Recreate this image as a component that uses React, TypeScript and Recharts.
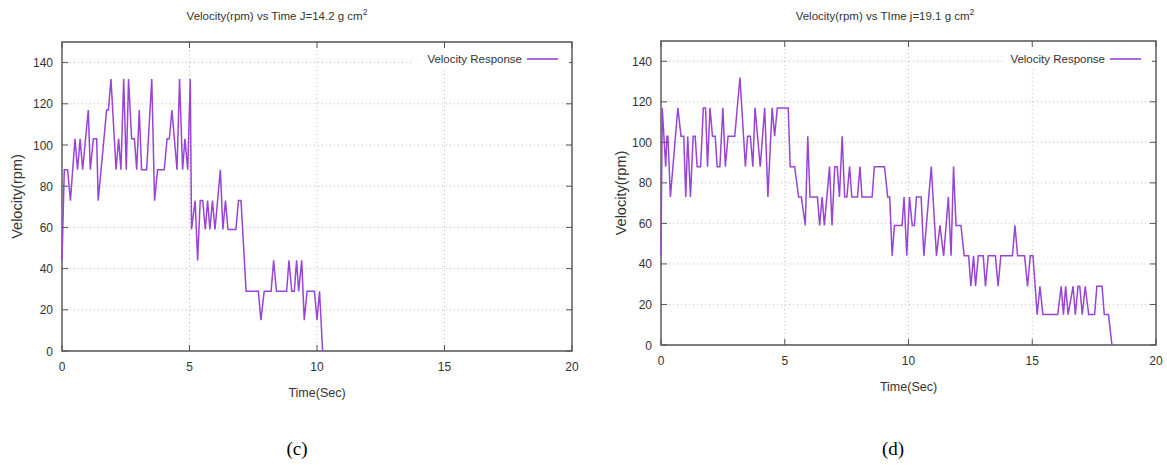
import React from 'react';
import { LineChart, Line, XAxis, YAxis, CartesianGrid, ReferenceArea, Legend } from 'recharts';

// panel (c): J = 14.2 g cm^2
const timeC = [
  0, 0.09, 0.22, 0.33, 0.51, 0.61, 0.71, 0.81, 1.03, 1.11, 1.23, 1.36, 1.42, 1.75, 1.82, 1.92,
  2.12, 2.22, 2.31, 2.42, 2.52, 2.61, 2.73, 2.84, 2.93, 3.03, 3.12, 3.32, 3.52, 3.63, 3.75, 4.01,
  4.12, 4.21, 4.31, 4.51, 4.61, 4.73, 4.82, 4.93, 5.03, 5.08, 5.22, 5.32, 5.42, 5.52, 5.62, 5.71,
  5.8, 5.9, 6.0, 6.21, 6.31, 6.41, 6.51, 6.82, 6.92, 7.02, 7.22, 7.7, 7.8, 7.93, 8.2, 8.3,
  8.41, 8.81, 8.9, 9.01, 9.11, 9.2, 9.28, 9.4, 9.5, 9.61, 9.9, 10.0, 10.1, 10.22,
];
const velocityC = [
  44, 88, 88, 73, 103, 88, 103, 88, 117, 88, 103, 103, 73, 117, 117, 132,
  88, 103, 88, 132, 88, 132, 103, 103, 88, 117, 88, 88, 132, 73, 88, 88,
  103, 103, 117, 88, 132, 88, 103, 88, 132, 59, 73, 44, 73, 73, 59, 73,
  59, 73, 59, 88, 59, 73, 59, 59, 73, 73, 29, 29, 15, 29, 29, 44,
  29, 29, 44, 29, 29, 44, 29, 44, 15, 29, 29, 15, 29, 0,
];

// panel (d): J = 19.1 g cm^2
const timeD = [
  0, 0.05, 0.19, 0.24, 0.28, 0.38, 0.68, 0.81, 0.92, 1.0, 1.08, 1.19, 1.3, 1.38, 1.46, 1.6,
  1.71, 1.8, 1.88, 1.98, 2.08, 2.19, 2.27, 2.38, 2.5, 2.6, 2.71, 2.98, 3.19, 3.41, 3.5, 3.61,
  3.71, 3.8, 4.01, 4.19, 4.32, 4.49, 4.59, 4.7, 5.14, 5.22, 5.4, 5.56, 5.67, 5.83, 5.93, 6.02,
  6.32, 6.41, 6.51, 6.6, 6.81, 6.91, 7.02, 7.12, 7.21, 7.32, 7.42, 7.51, 7.62, 7.71, 7.94, 8.04,
  8.12, 8.53, 8.62, 9.03, 9.16, 9.24, 9.34, 9.43, 9.74, 9.82, 9.93, 10.04, 10.15, 10.24, 10.32, 10.51,
  10.62, 10.92, 11.13, 11.27, 11.42, 11.61, 11.72, 11.82, 11.92, 12.12, 12.25, 12.43, 12.52, 12.63, 12.71, 12.82,
  13.02, 13.11, 13.22, 13.51, 13.62, 13.73, 14.2, 14.3, 14.41, 14.69, 14.81, 14.92, 15.03, 15.2, 15.31, 15.43,
  16.03, 16.17, 16.26, 16.35, 16.45, 16.65, 16.74, 16.85, 16.92, 17.02, 17.14, 17.28, 17.52, 17.61, 17.82, 17.91,
  18.08, 18.22,
];
const velocityD = [
  44, 117, 88, 103, 103, 73, 117, 103, 103, 73, 103, 73, 103, 103, 88, 88,
  117, 117, 88, 117, 103, 103, 88, 88, 117, 88, 103, 103, 132, 88, 103, 103,
  88, 117, 88, 117, 73, 117, 103, 117, 117, 88, 88, 73, 73, 59, 103, 73,
  73, 59, 73, 59, 88, 59, 88, 88, 73, 103, 73, 73, 88, 73, 73, 88,
  73, 73, 88, 88, 73, 73, 44, 59, 59, 73, 44, 73, 59, 59, 73, 73,
  44, 88, 44, 59, 44, 73, 44, 88, 59, 59, 44, 44, 29, 44, 29, 44,
  44, 29, 44, 44, 29, 44, 44, 59, 44, 44, 29, 44, 44, 15, 29, 15,
  15, 29, 15, 29, 15, 29, 15, 29, 29, 15, 29, 15, 15, 29, 29, 15,
  15, 0,
];

const xTicks = [0, 5, 10, 15, 20];
const yTicks = [0, 20, 40, 60, 80, 100, 120, 140];

const FONT = '"Liberation Sans", Arial, sans-serif';
const AXIS = '#555';
const TEXT = '#333';
const LINE = '#9845d4';

const toRows = (t: number[], v: number[]) => t.map((x, i) => ({ t: x, v: v[i] }));

const XTick = ({ x, y, payload, plotH }: any) => (
  <g>
    <line x1={x} y1={y} x2={x} y2={y - 6} stroke={AXIS} />
    <line x1={x} y1={y - plotH} x2={x} y2={y - plotH + 6} stroke={AXIS} />
    <text x={x} y={y + 20} textAnchor="middle" fill={TEXT} fontSize={12} fontFamily={FONT}>
      {payload.value}
    </text>
  </g>
);

const YTick = ({ x, y, payload, plotW }: any) => (
  <g>
    <line x1={x} y1={y} x2={x + 6} y2={y} stroke={AXIS} />
    <line x1={x + plotW} y1={y} x2={x + plotW - 6} y2={y} stroke={AXIS} />
    <text x={x - 9} y={y + 4.5} textAnchor="end" fill={TEXT} fontSize={12} fontFamily={FONT}>
      {payload.value}
    </text>
  </g>
);

const yLabel = (lx: number) => (props: any) => {
  const vb = props.viewBox;
  const cy = vb.y + vb.height / 2;
  return (
    <text
      x={lx}
      y={cy}
      transform={`rotate(-90 ${lx} ${cy})`}
      textAnchor="middle"
      fill={TEXT}
      fontSize={14.5}
      fontFamily={FONT}
    >
      Velocity(rpm)
    </text>
  );
};

const LegendBox = () => (
  <div
    style={{
      background: '#fff',
      height: 20,
      display: 'flex',
      alignItems: 'center',
      justifyContent: 'flex-end',
      paddingRight: 8,
      fontFamily: FONT,
      fontSize: 11.5,
      color: TEXT,
      whiteSpace: 'nowrap',
    }}
  >
    <span>Velocity Response</span>
    <svg width={34} height={6} style={{ marginLeft: 5, flexShrink: 0 }}>
      <line x1={0} y1={3} x2={31} y2={3} stroke={LINE} strokeWidth={1.6} />
    </svg>
  </div>
);

interface PanelProps {
  left: number;
  width: number;
  plotLeft: number;
  plotRight: number;
  plotTop: number;
  plotBottom: number;
  rows: { t: number; v: number }[];
  title: string;
  titleX: number;
  legendLeft: number;
  legendWidth: number;
  labelX: number;
  caption: string;
  captionX: number;
}

const H = 410;
const YW = 45;
const XH = 48;

const Panel = (p: PanelProps) => {
  const plotW = p.plotRight - p.plotLeft;
  const plotH = p.plotBottom - p.plotTop;
  return (
    <>
      <div
        style={{
          position: 'absolute',
          left: p.titleX - 160,
          top: 7,
          width: 320,
          textAlign: 'center',
          fontFamily: FONT,
          fontSize: 11.5,
          color: TEXT,
          lineHeight: '18px',
        }}
      >
        {p.title} g cm<sup style={{ fontSize: 8.5, verticalAlign: 5, lineHeight: 0 }}>2</sup>
      </div>
      <div style={{ position: 'absolute', left: p.left, top: 0 }}>
        <LineChart
          width={p.width}
          height={H}
          data={p.rows}
          margin={{
            top: p.plotTop,
            left: p.plotLeft - YW,
            right: p.width - p.plotRight,
            bottom: H - p.plotBottom - XH,
          }}
        >
          <CartesianGrid stroke="#bdbdbd" strokeDasharray="1 3" />
          <XAxis
            dataKey="t"
            type="number"
            domain={[0, 20]}
            ticks={xTicks}
            interval={0}
            height={XH}
            axisLine={false}
            tickLine={false}
            tickSize={0}
            tickMargin={0}
            tick={(tp: any) => <XTick {...tp} plotH={plotH} />}
            label={{
              value: 'Time(Sec)',
              position: 'insideBottom',
              offset: 2,
              fill: TEXT,
              fontSize: 12.5,
              fontFamily: FONT,
            }}
          />
          <YAxis
            type="number"
            domain={[0, 150]}
            ticks={yTicks}
            interval={0}
            width={YW}
            axisLine={false}
            tickLine={false}
            tickSize={0}
            tickMargin={0}
            tick={(tp: any) => <YTick {...tp} plotW={plotW} />}
            label={{ content: yLabel(p.labelX) }}
          />
          <ReferenceArea
            x1={0}
            x2={20}
            y1={0}
            y2={150}
            fill="none"
            stroke={AXIS}
            strokeWidth={1.4}
            ifOverflow="visible"
          />
          <Legend
            layout="horizontal"
            verticalAlign="middle"
            align="center"
            content={() => <LegendBox />}
            wrapperStyle={{ top: 49, left: p.legendLeft, width: p.legendWidth }}
          />
          <Line
            type="linear"
            dataKey="v"
            name="Velocity Response"
            stroke={LINE}
            strokeWidth={1.5}
            dot={false}
            isAnimationActive={false}
          />
        </LineChart>
      </div>
      <div
        style={{
          position: 'absolute',
          left: p.captionX - 30,
          top: 438,
          width: 60,
          textAlign: 'center',
          fontFamily: '"Liberation Serif", "Times New Roman", serif',
          fontSize: 19,
          color: '#000',
        }}
      >
        {p.caption}
      </div>
    </>
  );
};

export default function App() {
  return (
    <div
      style={{
        position: 'absolute',
        left: 0,
        top: 0,
        width: 1167,
        height: 465,
        background: '#fff',
        overflow: 'hidden',
      }}
    >
      <Panel
        left={0}
        width={600}
        plotLeft={62}
        plotRight={572}
        plotTop={42}
        plotBottom={351}
        rows={toRows(timeC, velocityC)}
        title="Velocity(rpm) vs Time J=14.2"
        titleX={277}
        legendLeft={413}
        legendWidth={156}
        labelX={22}
        caption="(c)"
        captionX={297}
      />
      <Panel
        left={600}
        width={567}
        plotLeft={61}
        plotRight={556}
        plotTop={41}
        plotBottom={345}
        rows={toRows(timeD, velocityD)}
        title="Velocity(rpm) vs TIme j=19.1"
        titleX={885}
        legendLeft={403}
        legendWidth={149}
        labelX={26}
        caption="(d)"
        captionX={893}
      />
    </div>
  );
}
